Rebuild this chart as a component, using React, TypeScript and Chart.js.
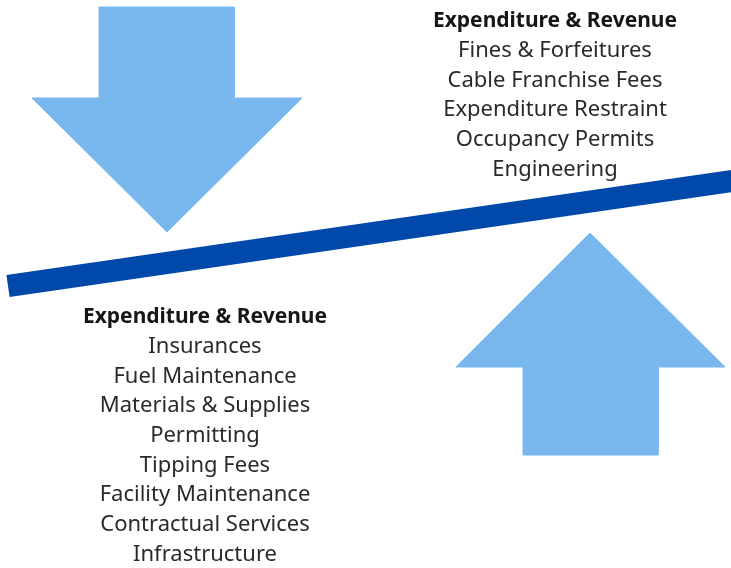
import React, { useEffect, useRef } from "react";
import { Chart, registerables } from "chart.js";

Chart.register(...registerables);

// Shapes (in picture coordinates: x 0..731, y 0..568, y downward)
const downArrow = [
  { x: 99, y: 7 }, { x: 234, y: 7 }, { x: 234, y: 98 }, { x: 302, y: 98 },
  { x: 167, y: 232 }, { x: 32, y: 98 }, { x: 99, y: 98 }, { x: 99, y: 7 },
];
const upArrow = [
  { x: 590, y: 233 }, { x: 725, y: 367 }, { x: 658, y: 367 }, { x: 658, y: 455 },
  { x: 523, y: 455 }, { x: 523, y: 367 }, { x: 456, y: 367 }, { x: 590, y: 233 },
];
const balanceLine = [
  { x: 8, y: 286 }, { x: 770, y: 175.5 },
];

const topTitle = "Expenditure & Revenue";
const topItems = [
  "Fines & Forfeitures",
  "Cable Franchise Fees",
  "Expenditure Restraint",
  "Occupancy Permits",
  "Engineering",
];
const bottomTitle = "Expenditure & Revenue";
const bottomItems = [
  "Insurances",
  "Fuel Maintenance",
  "Materials & Supplies",
  "Permitting",
  "Tipping Fees",
  "Facility Maintenance",
  "Contractual Services",
  "Infrastructure",
];

const textBlocks = [
  { cx: 555, y0: 21, title: topTitle, items: topItems },
  { cx: 205, y0: 317, title: bottomTitle, items: bottomItems },
];
const LINE_STEP = 29.7;

const textPlugin = {
  id: "textBlocks",
  afterDatasetsDraw(chart: any) {
    const { ctx, scales } = chart;
    const xs = scales.x;
    const ys = scales.y;
    ctx.save();
    ctx.textAlign = "center";
    ctx.textBaseline = "middle";
    textBlocks.forEach((b) => {
      const px = xs.getPixelForValue(b.cx);
      ctx.font = "bold 21px 'Noto Sans'";
      ctx.fillStyle = "#161616";
      ctx.fillText(b.title, px, ys.getPixelForValue(b.y0));
      ctx.font = "22px 'Noto Sans'";
      ctx.fillStyle = "#2a2a2a";
      b.items.forEach((t, i) => {
        ctx.fillText(t, px, ys.getPixelForValue(b.y0 + (i + 1) * LINE_STEP));
      });
    });
    ctx.restore();
  },
};

export default function App() {
  const ref = useRef<HTMLCanvasElement>(null);
  useEffect(() => {
    if (!ref.current) return;
    const arrowColor = "#78b8ee";
    const chart = new Chart(ref.current, {
      type: "scatter",
      data: {
        datasets: [
          {
            data: downArrow,
            showLine: true,
            fill: "shape",
            backgroundColor: arrowColor,
            borderColor: arrowColor,
            borderWidth: 1,
            pointRadius: 0,
            tension: 0,
          } as any,
          {
            data: upArrow,
            showLine: true,
            fill: "shape",
            backgroundColor: arrowColor,
            borderColor: arrowColor,
            borderWidth: 1,
            pointRadius: 0,
            tension: 0,
          } as any,
          {
            data: balanceLine,
            showLine: true,
            fill: false,
            borderColor: "#0048aa",
            borderWidth: 22,
            borderCapStyle: "butt",
            pointRadius: 0,
            tension: 0,
          } as any,
        ],
      },
      options: {
        animation: false,
        responsive: false,
        maintainAspectRatio: false,
        layout: { padding: 0 },
        events: [],
        scales: {
          x: { type: "linear", min: 0, max: 731, display: false },
          y: { type: "linear", min: 0, max: 568, reverse: true, display: false },
        },
        plugins: {
          legend: { display: false },
          tooltip: { enabled: false },
        },
      },
      plugins: [textPlugin],
    });
    return () => chart.destroy();
  }, []);

  return (
    <div style={{ position: "absolute", left: 0, top: 0, width: 731, height: 568, background: "#ffffff" }}>
      <canvas ref={ref} width={731} height={568} style={{ display: "block" }} />
    </div>
  );
}
